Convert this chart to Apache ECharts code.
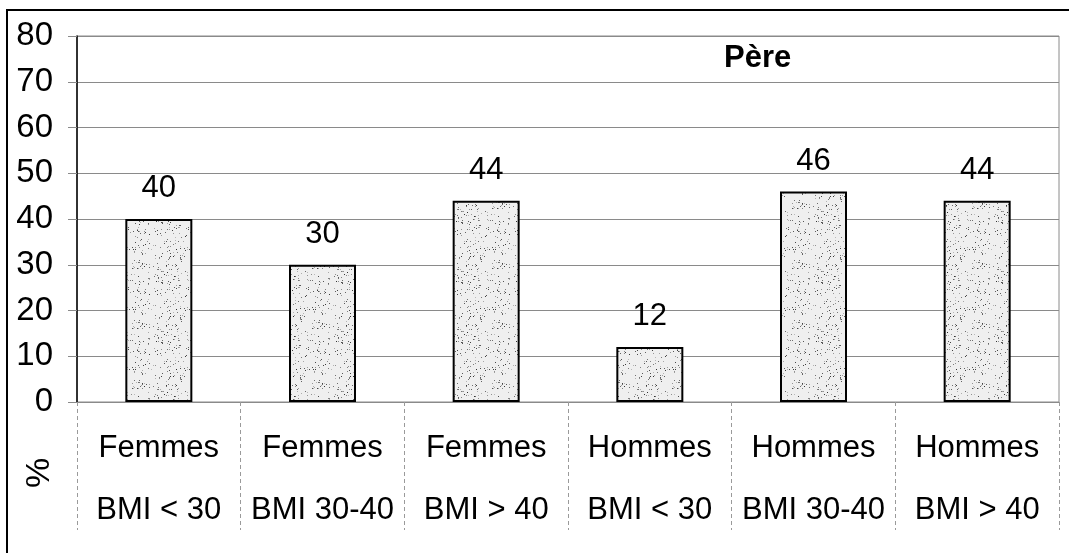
<!DOCTYPE html>
<html>
<head>
<meta charset="utf-8">
<script src="https://cdn.jsdelivr.net/npm/echarts@6/dist/echarts.min.js"></script>
<style>
  html, body { margin: 0; padding: 0; background: #ffffff; }
  #chart { width: 1069px; height: 553px; }
</style>
</head>
<body>
<div id="chart"></div>
<script>
// Share of fathers (%) by sex and BMI group
const groups = ['Femmes', 'Femmes', 'Femmes', 'Hommes', 'Hommes', 'Hommes'];
const bmiClasses = ['BMI < 30', 'BMI 30-40', 'BMI > 40', 'BMI < 30', 'BMI 30-40', 'BMI > 40'];
const pereValues = [40, 30, 44, 12, 46, 44];
const yTicks = [0, 10, 20, 30, 40, 50, 60, 70, 80];

const categories = groups.map((g, i) => g + '\n' + bmiClasses[i]);

// Stippled grey fill for the bars (fixed dot layout from a small LCG)
function stipple() {
  const c = document.createElement('canvas');
  c.width = 60; c.height = 60;
  const ctx = c.getContext('2d');
  ctx.fillStyle = '#efefef';
  ctx.fillRect(0, 0, 60, 60);
  let s = 12345;
  const next = () => { s = (s * 1103515245 + 12345) % 2147483648; return s / 2147483648; };
  for (let k = 0; k < 220; k++) {
    const x = Math.floor(next() * 60), y = Math.floor(next() * 60);
    const g = Math.floor(50 + next() * 140);
    ctx.fillStyle = 'rgb(' + g + ',' + g + ',' + g + ')';
    ctx.fillRect(x, y, 1, 1);
  }
  return c;
}

const chart = echarts.init(document.getElementById('chart'), null, { renderer: 'canvas' });
const font = '"Liberation Sans", Arial, sans-serif';

chart.setOption({
  animation: false,
  backgroundColor: '#ffffff',
  textStyle: { fontFamily: font },
  title: {
    text: 'Père',
    left: 724, top: 43, padding: 0,
    textStyle: { fontFamily: font, fontSize: 31, fontWeight: 'bold', color: '#000' }
  },
  grid: {
    left: 77, right: 10, top: 36, bottom: 151,
    show: true, borderColor: '#8a8a8a', borderWidth: 1, backgroundColor: 'transparent'
  },
  xAxis: {
    type: 'category',
    data: categories,
    boundaryGap: true,
    axisLine: { show: true, lineStyle: { color: '#8a8a8a', width: 1 } },
    axisTick: {
      show: true, length: 128, alignWithLabel: false,
      lineStyle: { color: '#9a9a9a', width: 1, type: [4, 3] }
    },
    axisLabel: {
      interval: 0, margin: 15, color: '#000',
      fontFamily: font, fontSize: 31, lineHeight: 62
    },
    splitLine: { show: false }
  },
  yAxis: {
    type: 'value',
    min: yTicks[0], max: yTicks[yTicks.length - 1], interval: 10,
    axisLine: { show: true, lineStyle: { color: '#000', width: 1.5 } },
    axisTick: { show: true, length: 9, inside: false, lineStyle: { color: '#8a8a8a' } },
    axisLabel: { margin: 24, color: '#000', fontFamily: font, fontSize: 33 },
    splitLine: { show: true, lineStyle: { color: '#8a8a8a', width: 1 } }
  },
  series: [{
    type: 'bar',
    data: pereValues,
    barWidth: 67,
    itemStyle: {
      color: { image: stipple(), repeat: 'repeat' },
      borderColor: '#000', borderWidth: 2
    },
    label: {
      show: true, position: 'top', distance: 15,
      color: '#000', fontFamily: font, fontSize: 31
    }
  }],
  graphic: [
    {
      type: 'rect',
      shape: { x: 7, y: 10, width: 1100, height: 600 },
      style: { fill: 'none', stroke: '#000', lineWidth: 2 },
      silent: true
    },
    {
      type: 'text',
      x: 40, y: 473,
      rotation: Math.PI / 2,
      style: {
        text: '%', fill: '#000', fontFamily: font, fontSize: 34,
        align: 'center', verticalAlign: 'middle'
      }
    }
  ]
});
</script>
</body>
</html>
